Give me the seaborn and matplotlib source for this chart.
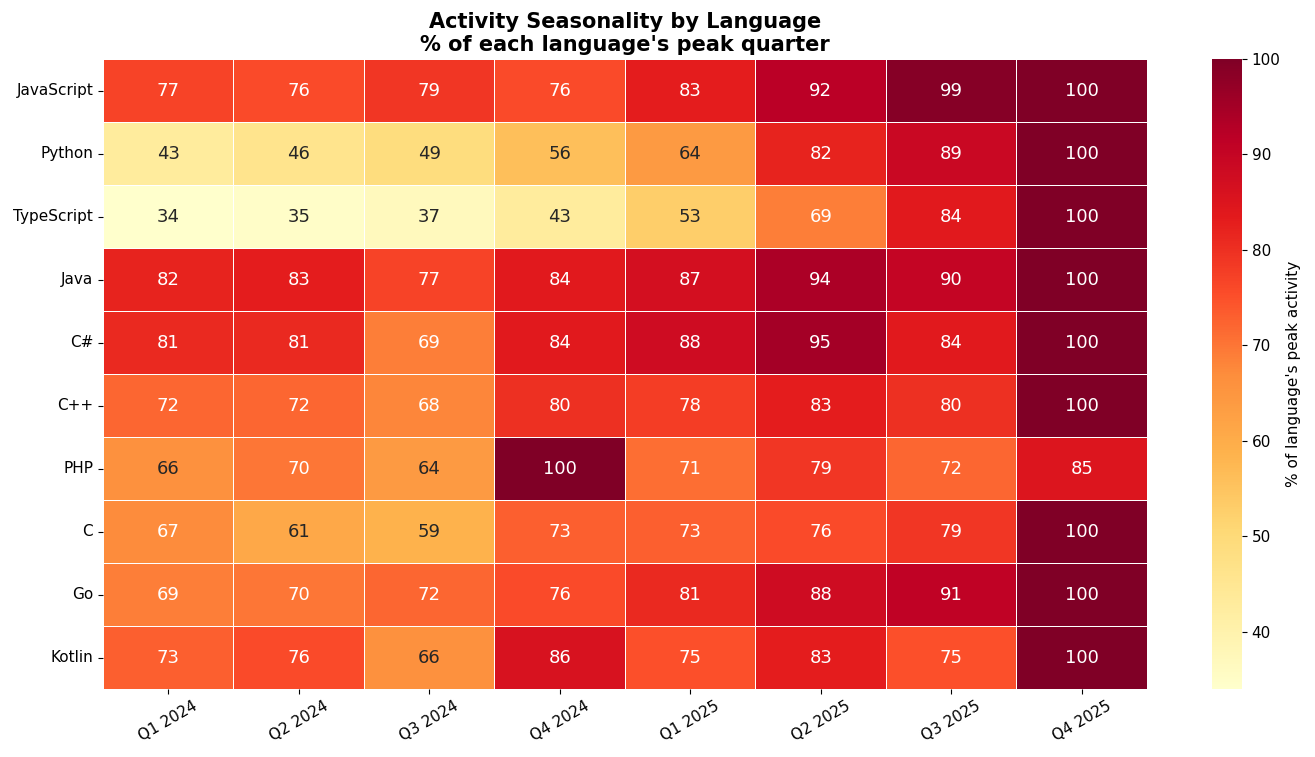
import matplotlib
matplotlib.use("Agg")
import matplotlib.pyplot as plt
import pandas as pd
import seaborn as sns

languages = ["JavaScript", "Python", "TypeScript", "Java", "C#", "C++", "PHP", "C", "Go", "Kotlin"]
quarters = ["Q1 2024", "Q2 2024", "Q3 2024", "Q4 2024", "Q1 2025", "Q2 2025", "Q3 2025", "Q4 2025"]

javascript = [77, 76, 79, 76, 83, 92, 99, 100]
python = [43, 46, 49, 56, 64, 82, 89, 100]
typescript = [34, 35, 37, 43, 53, 69, 84, 100]
java = [82, 83, 77, 84, 87, 94, 90, 100]
csharp = [81, 81, 69, 84, 88, 95, 84, 100]
cpp = [72, 72, 68, 80, 78, 83, 80, 100]
php = [66, 70, 64, 100, 71, 79, 72, 85]
c = [67, 61, 59, 73, 73, 76, 79, 100]
go = [69, 70, 72, 76, 81, 88, 91, 100]
kotlin = [73, 76, 66, 86, 75, 83, 75, 100]

df = pd.DataFrame([javascript, python, typescript, java, csharp, cpp, php, c, go, kotlin],
                  index=languages, columns=quarters)

fig = plt.figure(figsize=(13.15, 7.57), dpi=100)
ax = fig.add_axes([0.0783, 0.0898, 0.7939, 0.8322])
cax = fig.add_axes([0.9217, 0.0898, 0.0228, 0.8322])
sns.heatmap(df, ax=ax, cbar_ax=cax, cmap="YlOrRd", annot=True, fmt="d", linewidths=0.5,
            linecolor="white", annot_kws={"size": 13},
            cbar_kws={"label": "% of language's peak activity"})
ax.set_title("Activity Seasonality by Language\n% of each language's peak quarter",
             fontsize=15, fontweight="bold")
ax.set_xlabel("")
ax.set_ylabel("")
plt.setp(ax.get_xticklabels(), rotation=30, fontsize=11)
plt.setp(ax.get_yticklabels(), rotation=0, fontsize=11)
cax.tick_params(labelsize=11)
cax.set_ylabel("% of language's peak activity", fontsize=11)

plt.savefig("out.png", dpi=100)
plt.close()
